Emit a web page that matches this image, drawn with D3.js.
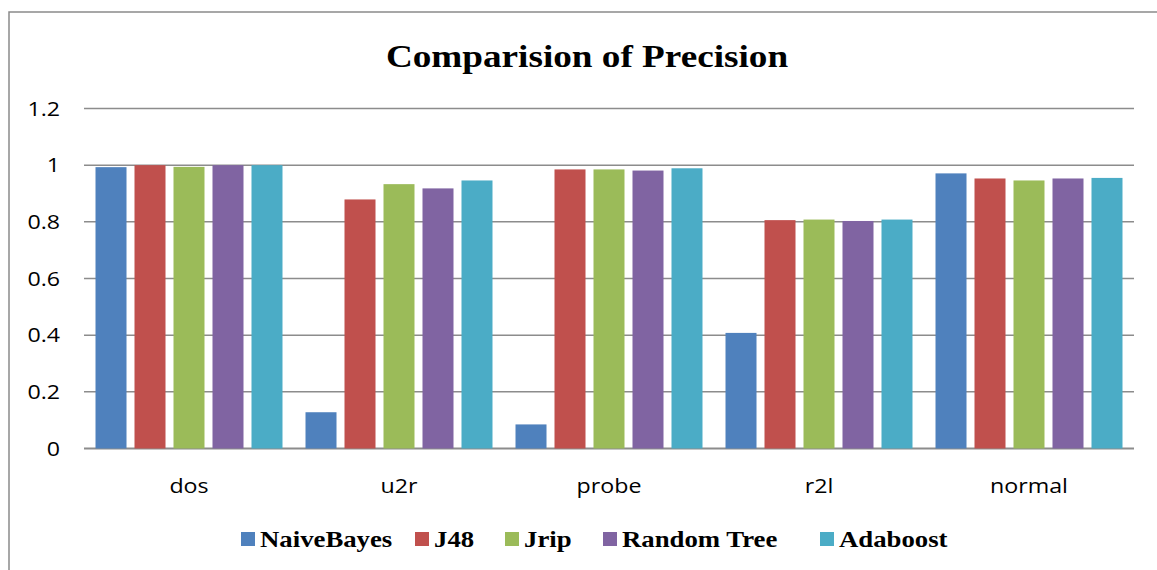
<!DOCTYPE html>
<html>
<head>
<meta charset="utf-8">
<script src="https://cdn.jsdelivr.net/npm/d3@7"></script>
<style>
  html, body { margin: 0; padding: 0; background: #fff; }
  svg { display: block; }
</style>
</head>
<body>
<svg id="chart" width="1157" height="570"></svg>
<script>
// ---- data ----
const categories = ["dos", "u2r", "probe", "r2l", "normal"];
const seriesNames = ["NaiveBayes", "J48", "Jrip", "Random Tree", "Adaboost"];
const naiveBayes  = [0.993, 0.128, 0.085, 0.408, 0.971];
const j48         = [1.000, 0.879, 0.985, 0.806, 0.953];
const jrip        = [0.994, 0.933, 0.985, 0.808, 0.946];
const randomTree  = [1.000, 0.918, 0.981, 0.803, 0.953];
const adaboost    = [1.000, 0.946, 0.989, 0.808, 0.955];
const yTicks = [0, 0.2, 0.4, 0.6, 0.8, 1, 1.2];
const yTickLabels = ["0", "0.2", "0.4", "0.6", "0.8", "1", "1.2"];
const titleText = "Comparision of Precision";

const seriesValues = [naiveBayes, j48, jrip, randomTree, adaboost];
const colors = ["#4F81BD", "#C0504D", "#9BBB59", "#8064A2", "#4BACC6"];

// ---- layout ----
const svg = d3.select("#chart");
const plotLeft = 84, plotRight = 1134, plotTop = 108.5, plotBottom = 448.5;
const stretch = 1.19;

// outer frame (only left and top visible)
svg.append("path")
  .attr("d", "M9,570 L9,12 L1157,12")
  .attr("fill", "none").attr("stroke", "#8a8a8a").attr("stroke-width", 1.5);

const x0 = d3.scaleBand().domain(categories).range([plotLeft, plotRight]).paddingInner(0).paddingOuter(0);
const x1 = d3.scaleBand().domain(seriesNames).range([0, x0.bandwidth()]).paddingInner(0.205).paddingOuter(0.295);
const y = d3.scaleLinear().domain([0, 1.2]).range([plotBottom, plotTop]);

// gridlines
svg.append("g").selectAll("line").data(yTicks).join("line")
  .attr("x1", plotLeft).attr("x2", plotRight)
  .attr("y1", d => y(d)).attr("y2", d => y(d))
  .attr("stroke", "#8c8c8c").attr("stroke-width", d => d === 0 ? 2 : 1.5);

// y tick labels
svg.append("g").selectAll("text").data(yTicks).join("text")
  .attr("transform", d => `translate(60,${y(d) + 7}) scale(${stretch},1)`)
  .attr("text-anchor", "end")
  .attr("font-family", "'Open Sans', sans-serif")
  .attr("font-size", 19.5)
  .attr("fill", "#000")
  .text((d, i) => yTickLabels[i]);

// bars
const groups = svg.append("g").selectAll("g").data(categories).join("g")
  .attr("transform", d => `translate(${x0(d)},0)`);
groups.selectAll("rect")
  .data((c, ci) => seriesNames.map((s, si) => ({ s, si, v: seriesValues[si][ci] })))
  .join("rect")
  .attr("x", d => x1(d.s))
  .attr("width", x1.bandwidth())
  .attr("y", d => y(d.v))
  .attr("height", d => y(0) - y(d.v))
  .attr("fill", d => colors[d.si]);

// x category labels
svg.append("g").selectAll("text").data(categories).join("text")
  .attr("transform", d => `translate(${x0(d) + x0.bandwidth() / 2},493) scale(${stretch},1)`)
  .attr("text-anchor", "middle")
  .attr("font-family", "'Open Sans', sans-serif")
  .attr("font-size", 19.5)
  .attr("fill", "#000")
  .text(d => d);

// title
svg.append("text")
  .attr("transform", `translate(587,67) scale(1.2,1)`)
  .attr("text-anchor", "middle")
  .attr("font-family", "'Liberation Serif', 'Times New Roman', serif")
  .attr("font-weight", "bold")
  .attr("font-size", 31)
  .attr("fill", "#000")
  .text(titleText);

// legend
const legendX = [241, 415, 505, 603, 820];
const legend = svg.append("g").selectAll("g").data(seriesNames).join("g")
  .attr("transform", (d, i) => `translate(${legendX[i]},0)`);
legend.append("rect")
  .attr("x", 0).attr("y", 532).attr("width", 14).attr("height", 14)
  .attr("fill", (d, i) => colors[i]);
legend.append("text")
  .attr("transform", `translate(19,546.5) scale(1.2,1)`)
  .attr("font-family", "'Liberation Serif', 'Times New Roman', serif")
  .attr("font-weight", "bold")
  .attr("font-size", 22.3)
  .attr("fill", "#000")
  .text(d => d);
</script>
</body>
</html>
